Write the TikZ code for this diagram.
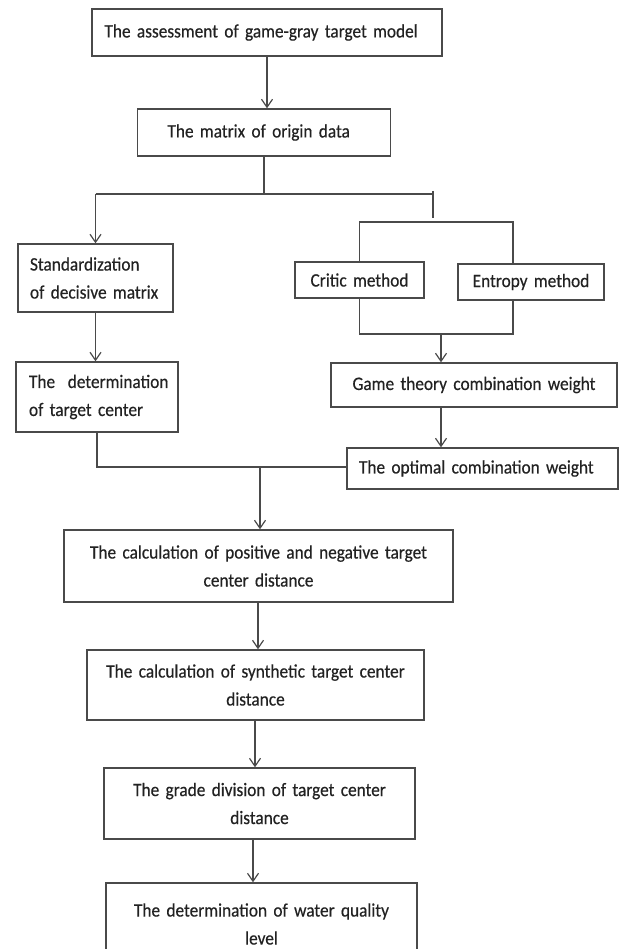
\documentclass[tikz,border=0pt]{standalone}
\usepackage{fontspec}
\setmainfont[FakeStretch=0.91,FakeBold=0.4]{Carlito}
\usetikzlibrary{arrows.meta}
\definecolor{lineclr}{HTML}{4A4A4A}
\definecolor{txtclr}{HTML}{222222}
\newcommand\boxfont{\fontsize{19}{28}\selectfont\hyphenpenalty=10000 }
\begin{document}
\begin{tikzpicture}[x=1pt,y=-1pt,
  box/.style={draw=lineclr, line width=1.4pt, text=txtclr, font=\boxfont, inner ysep=0pt},
  lbox/.style n args={3}{box, align=left, minimum width=#1, text width=#1-2*#3, inner xsep=#3, minimum height=#2},
  cbox/.style 2 args={box, align=center, minimum width=#1, text width=#1-16pt, inner xsep=8pt, minimum height=#2},
  conn/.style={draw=lineclr, line width=1.4pt},
  arr/.style={conn, -{Straight Barb[length=8pt,width=11pt,line width=1.2pt]}}]
\useasboundingbox (0,0) rectangle (619,949);
\fill[white] (0,0) rectangle (619,949);

\node[lbox={350pt}{47pt}{12.5pt}] (b1) at (267,32.5) {The assessment of game-gray target model};
\node[lbox={253pt}{47pt}{30pt}] (b2) at (264,132.5) {The matrix of origin data};
\node[lbox={155pt}{68pt}{12pt}] (std) at (95.5,278) {Standardization\\of decisive matrix};
\node[lbox={162pt}{70pt}{6pt}] (det) at (97,397) {\hspace*{7pt}\mbox{The\ \ determination}\\\hspace*{7pt}of target center};
\node[cbox={129pt}{36pt}] (crit) at (359.5,280) {Critic method};
\node[cbox={146pt}{36pt}] (ent) at (531,282) {Entropy method};
\node[cbox={286pt}{44pt}] (game) at (474,385) {Game theory combination weight};
\node[lbox={271pt}{41pt}{12pt}] (opt) at (482.5,468.5) {The optimal combination weight};
\node[cbox={389pt}{72pt}] (pos) at (258.5,566) {The calculation of positive and negative target\\center distance};
\node[cbox={337pt}{70pt}] (syn) at (255.5,685) {The calculation of synthetic target center\\distance};
\node[cbox={311pt}{71pt}] (grade) at (259.5,803.5) {The grade division of target center\\distance};
\node[cbox={311pt}{82pt}] (water) at (261.5,924) {The determination of water quality\hspace*{30pt}\\level};

% junction points
\coordinate (j1) at (264,194);
\coordinate (jl) at (95.5,194);
\coordinate (jr) at (433,194);
\coordinate (tt) at (433,191);
\coordinate (tb) at (433,218);
\coordinate (bl) at (359.5,222);
\coordinate (br) at (513,222);
\coordinate (cl) at (359.5,334);
\coordinate (cr) at (513,334);
\coordinate (cm) at (441,334);
\coordinate (dl) at (97,467);
\coordinate (dm) at (260,467);

\draw[arr] (b1.south) -- (b1.south |- b2.north);
\draw[conn] (b2.south) -- (j1);
\draw[conn] (jl) -- (jr);
\draw[conn] (tt) -- (tb);
\draw[arr] (jl) -- (std.north);
\draw[conn] (crit.north) -- (bl) -- (br) -- (br |- ent.north);
\draw[conn] (crit.south) -- (cl) -- (cr) -- (cr |- ent.south);
\draw[arr] (cm) -- (cm |- game.north);
\draw[arr] (cm |- game.south) -- (cm |- opt.north);
\draw[arr] (std.south) -- (std.south |- det.north);
\draw[conn] (det.south) -- (dl) -- (dl -| opt.west);
\draw[arr] (dm) -- (dm |- pos.north);
\draw[arr] (pos.south -| 258,0) -- (syn.north -| 258,0);
\draw[arr] (syn.south -| 255,0) -- (grade.north -| 255,0);
\draw[arr] (grade.south -| 253,0) -- (water.north -| 253,0);
\end{tikzpicture}
\end{document}
